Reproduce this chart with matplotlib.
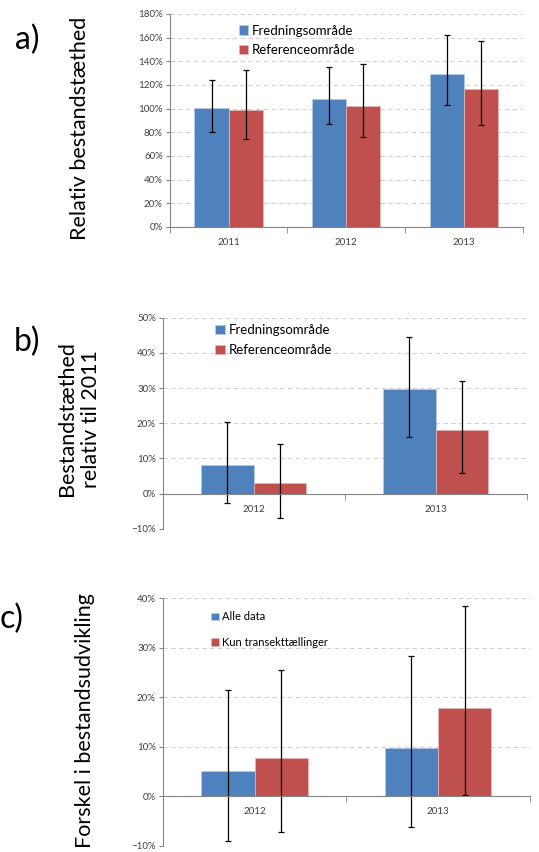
import matplotlib
matplotlib.use("Agg")
import matplotlib.pyplot as plt
import numpy as np
from matplotlib.ticker import PercentFormatter, MultipleLocator

# ============================================================
# PLOT CONFIGURATION
# ============================================================
plt.rcParams['font.family'] = ['Lato', 'DejaVu Sans']

BLUE = '#4F81BD'
RED = '#C0504D'
AXCOL = '#868686'
TXTCOL = '#404040'

# ============================================================
# DATA (percent)
# ============================================================
# panel a) relative population density
years_a = ['2011', '2012', '2013']
a_fred = [100.3, 108.2, 129.3]
a_fred_lo = [80.6, 86.8, 103.1]
a_fred_hi = [124.2, 135.5, 162.3]
a_ref = [98.6, 102.0, 116.6]
a_ref_lo = [74.1, 75.8, 85.9]
a_ref_hi = [132.4, 137.5, 157.5]

# panel b) density relative to 2011
years_b = ['2012', '2013']
b_fred = [8.2, 29.6]
b_fred_lo = [-2.6, 16.0]
b_fred_hi = [20.4, 44.5]
b_ref = [3.0, 18.0]
b_ref_lo = [-6.9, 5.7]
b_ref_hi = [14.1, 32.1]

# panel c) difference in population development
years_c = ['2012', '2013']
c_all = [5.05, 9.7]
c_all_lo = [-9.1, -6.2]
c_all_hi = [21.5, 28.4]
c_trans = [7.75, 17.9]
c_trans_lo = [-7.3, 0.3]
c_trans_hi = [25.5, 38.5]


def draw_panel(ax, cats, v1, lo1, hi1, v2, lo2, hi2, labels, ylim, step,
               leg_fs, leg_anchor, leg_space):
    x = np.arange(len(cats))
    w = 0.29
    v1, v2 = np.array(v1), np.array(v2)
    err1 = [v1 - np.array(lo1), np.array(hi1) - v1]
    err2 = [v2 - np.array(lo2), np.array(hi2) - v2]
    ax.bar(x - w / 2, v1, w, color=BLUE, edgecolor='#B9CDE5', linewidth=0.5,
           label=labels[0], zorder=2)
    ax.bar(x + w / 2, v2, w, color=RED, edgecolor='#E6B9B8', linewidth=0.5,
           label=labels[1], zorder=2)
    ax.errorbar(x - w / 2, v1, yerr=err1, fmt='none', ecolor='black',
                elinewidth=0.9, capsize=2.5, capthick=0.9, zorder=3)
    ax.errorbar(x + w / 2, v2, yerr=err2, fmt='none', ecolor='black',
                elinewidth=0.9, capsize=2.5, capthick=0.9, zorder=3)

    ax.set_xlim(-0.5, len(cats) - 0.5)
    ax.set_ylim(*ylim)
    ax.yaxis.set_major_locator(MultipleLocator(step))
    ax.yaxis.set_major_formatter(PercentFormatter(decimals=0))
    ax.grid(axis='y', linestyle=(0, (4, 3)), color='#D0D0D0', linewidth=0.8,
            zorder=0)
    ax.set_axisbelow(True)

    for s in ['top', 'right']:
        ax.spines[s].set_visible(False)
    ax.spines['left'].set_color(AXCOL)
    ax.spines['bottom'].set_color(AXCOL)
    ax.spines['bottom'].set_position(('data', 0))
    ax.spines['bottom'].set_zorder(4)

    ax.set_xticks(x)
    ax.set_xticklabels(cats)
    ax.set_xticks(np.arange(len(cats) + 1) - 0.5, minor=True)
    ax.tick_params(axis='x', which='major', length=0, pad=8, labelsize=7,
                   labelcolor=TXTCOL)
    ax.tick_params(axis='x', which='minor', length=4, color=AXCOL,
                   direction='out')
    ax.tick_params(axis='y', length=3, color=AXCOL, labelsize=7,
                   labelcolor=TXTCOL, pad=2)

    ax.legend(loc='upper left', bbox_to_anchor=leg_anchor, frameon=False,
              fontsize=leg_fs, handlelength=0.7, handleheight=0.7,
              handletextpad=0.3, labelspacing=leg_space, borderaxespad=0,
              labelcolor='black')


fig = plt.figure(figsize=(5.39, 8.52), dpi=100)

# ============================================================
# PANEL A
# ============================================================
ax1 = fig.add_axes([0.315, 0.7336, 0.655, 0.25])
draw_panel(ax1, years_a, a_fred, a_fred_lo, a_fred_hi,
           a_ref, a_ref_lo, a_ref_hi,
           ['Fredningsområde', 'Referenceområde'], (0, 180), 20,
           9.5, (0.18, 0.975), 0.6)

# ============================================================
# PANEL B
# ============================================================
ax2 = fig.add_axes([0.302, 0.3795, 0.675, 0.2475])
draw_panel(ax2, years_b, b_fred, b_fred_lo, b_fred_hi,
           b_ref, b_ref_lo, b_ref_hi,
           ['Fredningsområde', 'Referenceområde'], (-10, 50), 10,
           9.5, (0.13, 0.995), 0.6)

# ============================================================
# PANEL C
# ============================================================
ax3 = fig.add_axes([0.302, 0.0074, 0.681, 0.2904])
draw_panel(ax3, years_c, c_all, c_all_lo, c_all_hi,
           c_trans, c_trans_lo, c_trans_hi,
           ['Alle data', 'Kun transekttællinger'], (-10, 40), 10,
           8, (0.12, 0.965), 1.3)

# ============================================================
# LABELS
# ============================================================
fig.text(80 / 539, 1 - 128 / 852, 'Relativ bestandstæthed', rotation=90,
         ha='center', va='center', fontsize=15.5)
fig.text(79 / 539, 1 - 419 / 852, 'Bestandstæthed\nrelativ til 2011',
         rotation=90, ha='center', va='center', fontsize=15.5,
         multialignment='center', linespacing=1.2)
fig.text(85 / 539, 1 - 721 / 852, 'Forskel i bestandsudvikling',
         rotation=90, ha='center', va='center', fontsize=15.5)

fig.text(27 / 539, 1 - 40 / 852, 'a)', ha='center', va='center', fontsize=23)
fig.text(27 / 539, 1 - 342 / 852, 'b)', ha='center', va='center', fontsize=23)
fig.text(12 / 539, 1 - 619 / 852, 'c)', ha='center', va='center', fontsize=23)

fig.savefig('out.png', dpi=100)
